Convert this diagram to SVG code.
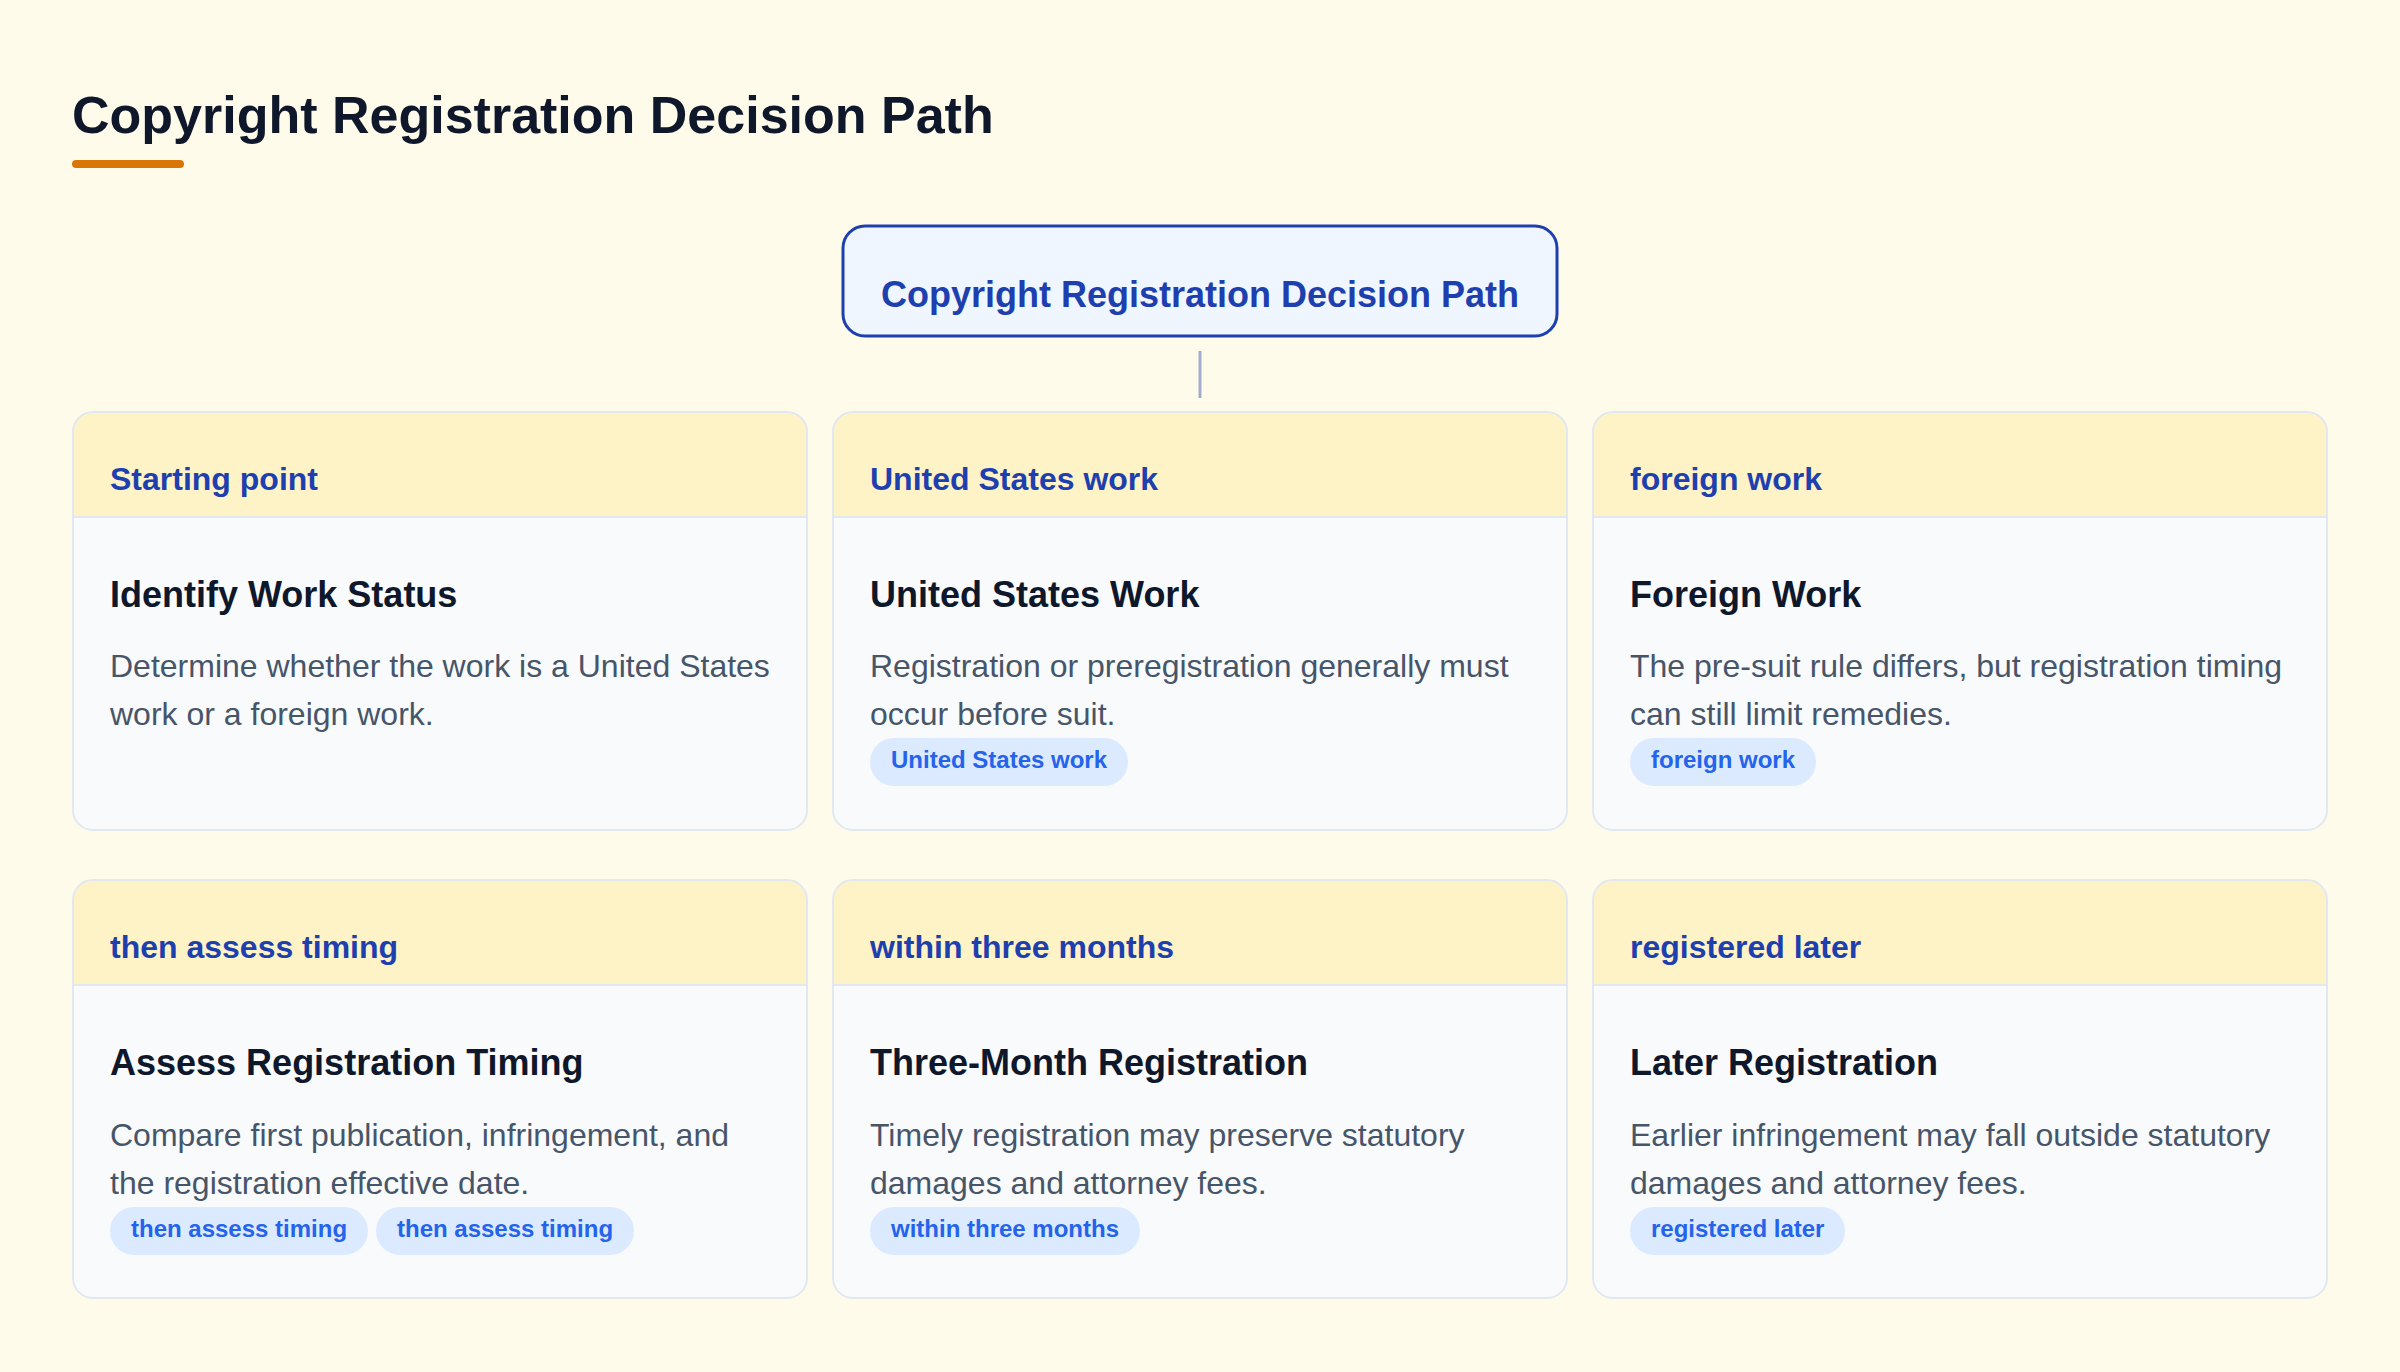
<svg xmlns="http://www.w3.org/2000/svg" xmlns:xlink="http://www.w3.org/1999/xlink" width="2400" height="1372" viewBox="0 0 2400 1372">
  <style>
    text { font-family: "Liberation Sans", Arial, Helvetica, sans-serif; }
    .page-title { font-size: 52px; font-weight: 700; fill: #0f172a; }
    .root-label { font-size: 36px; font-weight: 700; fill: #1e40af; }
    .card-body { fill: #f8fafc; }
    .card-head { fill: #fef3c7; }
    .card-outline { fill: none; stroke: #e2e8f0; stroke-width: 2; }
    .head-sep { stroke: #e2e8f0; stroke-width: 2; }
    .head-label { font-size: 32px; font-weight: 700; fill: #1e40af; }
    .card-title { font-size: 36px; font-weight: 700; fill: #0f172a; }
    .card-desc { font-size: 32px; font-weight: 400; fill: #475569; }
    .pill { fill: #dbeafe; }
    .pill-text { font-size: 24px; font-weight: 700; fill: #2563eb; }
    .connector { stroke: #1e40af; stroke-opacity: 0.42; stroke-width: 3; fill: none; }
  </style>
  <defs>
    <path id="head-shape" d="M0 105 V20 A20 20 0 0 1 20 0 H714 A20 20 0 0 1 734 20 V105 Z"/>
  </defs>

  <rect x="0" y="0" width="2400" height="1372" fill="#fefbea"/>

  <g id="page-title">
    <text class="page-title" x="72" y="133">Copyright Registration Decision Path</text>
    <rect x="72" y="160" width="112" height="8" rx="4" fill="#d97706"/>
  </g>

  <g id="connectors">
    <line class="connector" x1="1200" y1="351" x2="1200" y2="398"/>
  </g>

  <g id="root">
    <rect x="843" y="226" width="714" height="110" rx="22" fill="#eff6ff" stroke="#1e40af" stroke-width="3"/>
    <text class="root-label" x="1200" y="307" text-anchor="middle">Copyright Registration Decision Path</text>
  </g>

  <g id="card-identify" transform="translate(73,412)">
    <rect class="card-body" x="0" y="0" width="734" height="418" rx="20"/>
    <use xlink:href="#head-shape" class="card-head"/>
    <line class="head-sep" x1="0" y1="105" x2="734" y2="105"/>
    <rect class="card-outline" x="0" y="0" width="734" height="418" rx="20"/>
    <text class="head-label" x="37" y="78">Starting point</text>
    <text class="card-title" x="37" y="195">Identify Work Status</text>
    <text class="card-desc" x="37" y="265">Determine whether the work is a United States</text>
    <text class="card-desc" x="37" y="313">work or a foreign work.</text>
  </g>

  <g id="card-us-work" transform="translate(833,412)">
    <rect class="card-body" x="0" y="0" width="734" height="418" rx="20"/>
    <use xlink:href="#head-shape" class="card-head"/>
    <line class="head-sep" x1="0" y1="105" x2="734" y2="105"/>
    <rect class="card-outline" x="0" y="0" width="734" height="418" rx="20"/>
    <text class="head-label" x="37" y="78">United States work</text>
    <text class="card-title" x="37" y="195">United States Work</text>
    <text class="card-desc" x="37" y="265">Registration or preregistration generally must</text>
    <text class="card-desc" x="37" y="313">occur before suit.</text>
    <rect class="pill" x="37" y="326" width="258" height="48" rx="24"/>
    <text class="pill-text" x="58" y="356">United States work</text>
  </g>

  <g id="card-foreign-work" transform="translate(1593,412)">
    <rect class="card-body" x="0" y="0" width="734" height="418" rx="20"/>
    <use xlink:href="#head-shape" class="card-head"/>
    <line class="head-sep" x1="0" y1="105" x2="734" y2="105"/>
    <rect class="card-outline" x="0" y="0" width="734" height="418" rx="20"/>
    <text class="head-label" x="37" y="78">foreign work</text>
    <text class="card-title" x="37" y="195">Foreign Work</text>
    <text class="card-desc" x="37" y="265">The pre-suit rule differs, but registration timing</text>
    <text class="card-desc" x="37" y="313">can still limit remedies.</text>
    <rect class="pill" x="37" y="326" width="186" height="48" rx="24"/>
    <text class="pill-text" x="58" y="356">foreign work</text>
  </g>

  <g id="card-assess-timing" transform="translate(73,880)">
    <rect class="card-body" x="0" y="0" width="734" height="418" rx="20"/>
    <use xlink:href="#head-shape" class="card-head"/>
    <line class="head-sep" x1="0" y1="105" x2="734" y2="105"/>
    <rect class="card-outline" x="0" y="0" width="734" height="418" rx="20"/>
    <text class="head-label" x="37" y="78">then assess timing</text>
    <text class="card-title" x="37" y="195">Assess Registration Timing</text>
    <text class="card-desc" x="37" y="266">Compare first publication, infringement, and</text>
    <text class="card-desc" x="37" y="314">the registration effective date.</text>
    <rect class="pill" x="37" y="327" width="258" height="48" rx="24"/>
    <text class="pill-text" x="58" y="357">then assess timing</text>
    <rect class="pill" x="303" y="327" width="258" height="48" rx="24"/>
    <text class="pill-text" x="324" y="357">then assess timing</text>
  </g>

  <g id="card-three-month" transform="translate(833,880)">
    <rect class="card-body" x="0" y="0" width="734" height="418" rx="20"/>
    <use xlink:href="#head-shape" class="card-head"/>
    <line class="head-sep" x1="0" y1="105" x2="734" y2="105"/>
    <rect class="card-outline" x="0" y="0" width="734" height="418" rx="20"/>
    <text class="head-label" x="37" y="78">within three months</text>
    <text class="card-title" x="37" y="195">Three-Month Registration</text>
    <text class="card-desc" x="37" y="266">Timely registration may preserve statutory</text>
    <text class="card-desc" x="37" y="314">damages and attorney fees.</text>
    <rect class="pill" x="37" y="327" width="270" height="48" rx="24"/>
    <text class="pill-text" x="58" y="357">within three months</text>
  </g>

  <g id="card-later" transform="translate(1593,880)">
    <rect class="card-body" x="0" y="0" width="734" height="418" rx="20"/>
    <use xlink:href="#head-shape" class="card-head"/>
    <line class="head-sep" x1="0" y1="105" x2="734" y2="105"/>
    <rect class="card-outline" x="0" y="0" width="734" height="418" rx="20"/>
    <text class="head-label" x="37" y="78">registered later</text>
    <text class="card-title" x="37" y="195">Later Registration</text>
    <text class="card-desc" x="37" y="266">Earlier infringement may fall outside statutory</text>
    <text class="card-desc" x="37" y="314">damages and attorney fees.</text>
    <rect class="pill" x="37" y="327" width="215" height="48" rx="24"/>
    <text class="pill-text" x="58" y="357">registered later</text>
  </g>
</svg>
